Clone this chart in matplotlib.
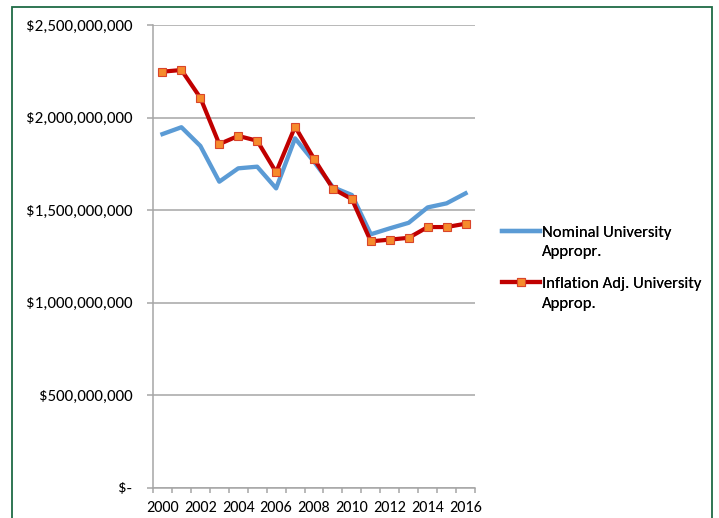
import matplotlib.pyplot as plt
import numpy as np
from matplotlib.lines import Line2D
from matplotlib.patches import Rectangle
from matplotlib.ticker import FuncFormatter

plt.rcParams["font.family"] = ["Carlito", "Lato", "DejaVu Sans"]
plt.rcParams["font.size"] = 12

years = list(range(2000, 2017))
nominal = [1911, 1948, 1847, 1654, 1726, 1735, 1618, 1888, 1762, 1624,
           1582, 1370, 1402, 1432, 1515, 1537, 1591]
inflation_adj = [2248, 2257, 2107, 1857, 1901, 1875, 1705, 1951, 1778, 1616,
                 1560, 1332, 1341, 1351, 1409, 1409, 1427]
nominal = np.array(nominal) * 1e6
inflation_adj = np.array(inflation_adj) * 1e6

fig = plt.figure(figsize=(7.19, 5.18), dpi=100)
ax = fig.add_axes([153 / 719, 1 - 488 / 518, 322 / 719, 463 / 518])

# green outer frame like the excel chart object
fig.patches.append(Rectangle((12 / 719, -0.05), 700 / 719, 1.05 - 7 / 518,
                             transform=fig.transFigure, fill=False,
                             edgecolor="#1f6b45", linewidth=1.3))

x = np.arange(len(years))
(l_nom,) = ax.plot(x, nominal, color="#5B9BD5", linewidth=3.1,
                   solid_joinstyle="round")
(l_adj,) = ax.plot(x, inflation_adj, color="#C00000", linewidth=3, marker="s",
                   markersize=6.0, markerfacecolor="#F68B2C",
                   markeredgecolor="#D9452B", markeredgewidth=0.8)

ax.set_ylim(0, 2.5e9)
ax.set_yticks(np.arange(0, 2.5e9 + 1, 5e8))


def money(v, pos):
    if v == 0:
        return "$-"
    return "${:,.0f}".format(v)


ax.yaxis.set_major_formatter(FuncFormatter(money))
ax.grid(axis="y", color="#A6A6A6", linewidth=1.1)
ax.set_axisbelow(True)

ax.set_xlim(-0.5, len(years) - 0.5)
ax.set_xticks(x[::2])
ax.set_xticklabels([str(y) for y in years[::2]])
ax.set_xticks(np.arange(-0.5, len(years), 1), minor=True)
ax.tick_params(axis="x", which="major", length=0, pad=9, labelsize=11.6)
ax.tick_params(axis="x", which="minor", length=3.6, color="#A6A6A6", width=1.1)
ax.tick_params(axis="y", length=4.5, color="#A6A6A6", width=1.1, pad=10.5,
               labelsize=12.2)

for s in ["top", "right"]:
    ax.spines[s].set_visible(False)
ax.spines["left"].set_color("#A6A6A6")
ax.spines["bottom"].set_color("#A6A6A6")
ax.spines["left"].set_linewidth(1.1)
ax.spines["bottom"].set_linewidth(1.1)

# excel puts the key next to the first line of a wrapped label,
# so each series gets its own two-row legend
blank = Line2D([], [], linestyle="none")
legend_rows = [
    (l_nom, ["Nominal University", "Appropr."], 242),
    (l_adj, ["Inflation Adj. University", "Approp."], 293.5),
]
for handle, labels, ypix in legend_rows:
    leg = fig.legend([handle, blank], labels, loc="center left",
                     bbox_to_anchor=(502 / 719, 1 - ypix / 518),
                     frameon=False, borderpad=0, borderaxespad=0,
                     handlelength=2.3, handletextpad=0.1, labelspacing=0.3,
                     fontsize=12)
    fig.add_artist(leg)

fig.savefig("out.png", dpi=100)
